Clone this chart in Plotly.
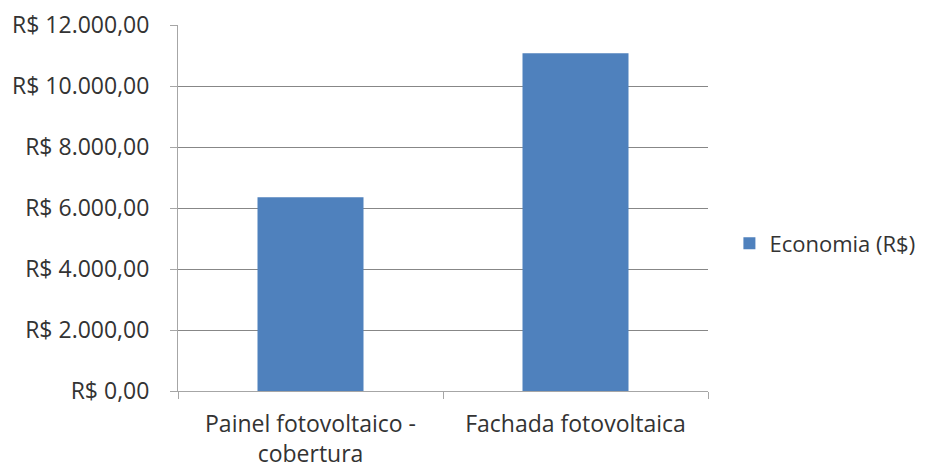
import plotly.graph_objects as go

# Annual savings by photovoltaic system type
categories = ["Painel fotovoltaico -<br>cobertura", "Fachada fotovoltaica"]
economia = [6350, 11070]
series_name = "Economia (R$)"

FONT = "Open Sans"
TEXT = "#333333"

fig = go.Figure(
    go.Bar(
        x=categories,
        y=economia,
        name=series_name,
        marker=dict(color="#4F81BD", line=dict(width=0)),
        showlegend=True,
    )
)

fig.update_layout(
    width=928,
    height=468,
    margin=dict(l=178, r=220, t=25, b=77),
    paper_bgcolor="white",
    plot_bgcolor="white",
    font=dict(family=FONT, size=23, color=TEXT),
    separators=",.",
    bargap=0.6,
    showlegend=True,
    legend=dict(
        xref="container", yref="container",
        x=0.786, y=0.48, xanchor="left", yanchor="middle",
        font=dict(family=FONT, size=22, color=TEXT),
        itemwidth=30,
        bgcolor="rgba(0,0,0,0)",
    ),
)

fig.update_yaxes(
    range=[0, 12000],
    dtick=2000,
    tickformat=",.2f",
    tickprefix="R$ ",
    automargin=False,
    showgrid=True,
    gridcolor="#878787",
    gridwidth=1,
    zeroline=False,
    showline=True,
    linecolor="#A6A6A6",
    linewidth=1,
    ticks="outside",
    ticklen=7,
    tickcolor="#A6A6A6",
    ticklabelstandoff=16,
    tickfont=dict(family=FONT, size=23, color=TEXT),
)

fig.update_xaxes(
    automargin=False,
    showline=True,
    linecolor="#A6A6A6",
    linewidth=1,
    ticks="outside",
    tickson="boundaries",
    ticklen=7,
    tickcolor="#A6A6A6",
    showgrid=False,
    ticklabelstandoff=12,
    tickfont=dict(family=FONT, size=23, color=TEXT),
)

fig.write_html("out.html")
